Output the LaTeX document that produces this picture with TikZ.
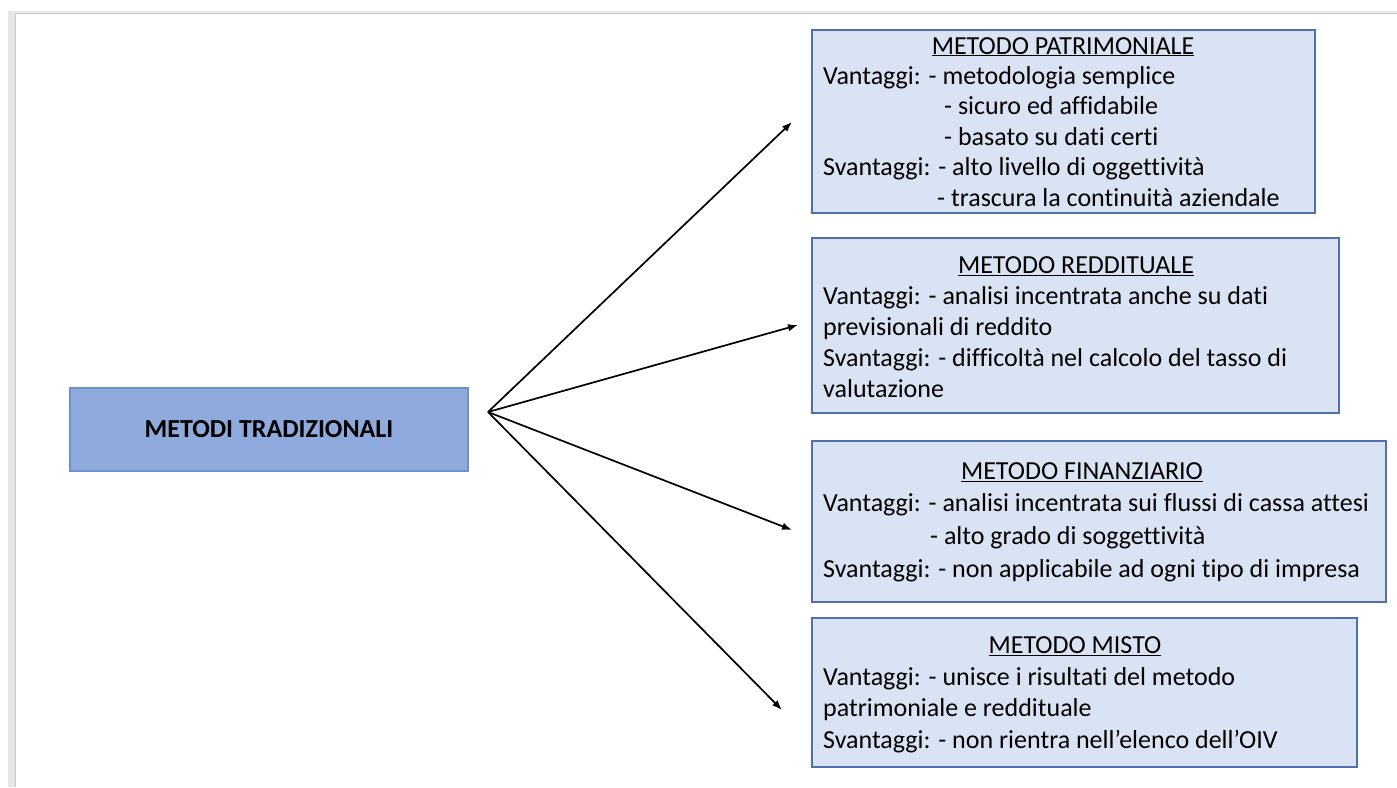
\documentclass[tikz,border=0pt]{standalone}
\usepackage{fontspec}
\setmainfont[Ligatures={NoCommon}]{Carlito}
\usetikzlibrary{arrows.meta}
\definecolor{pageedge}{HTML}{E6E6E6}
\definecolor{pageline}{HTML}{C8C8C8}
\definecolor{mainfill}{HTML}{8FAADC}
\definecolor{mainline}{HTML}{6F8FC9}
\definecolor{boxfill}{HTML}{DAE3F3}
\definecolor{boxline}{HTML}{4F6FAD}
\begin{document}
\begin{tikzpicture}[x=1pt,y=-1pt,
  mainbox/.style={draw=mainline, fill=mainfill, line width=1.2pt, minimum width=398pt, minimum height=83pt, inner sep=0pt},
  infobox/.style={draw=boxline, fill=boxfill, line width=1.2pt, inner sep=0pt},
  txt/.style={anchor=base west, inner sep=0pt, font=\fontsize{26}{30}\selectfont},
  ttl/.style={anchor=base, inner sep=0pt, font=\fontsize{26}{30}\selectfont},
  link/.style={line width=1.7pt, -{Latex[length=10pt,width=7.5pt]}}]
\useasboundingbox (0,0) rectangle (1397,787);
% page background with its grey edge
\fill[pageedge] (8,11) rectangle (1397,787);
\fill[white] (16,14) rectangle (1397,787);
\draw[pageline, line width=1.2pt] (15.5,787) -- (15.5,13.5) -- (1397,13.5);

% root box
\node[mainbox] (root) at (269,429.5) {\fontsize{26}{30}\selectfont\bfseries METODI TRADIZIONALI};

% method boxes
\node[infobox, minimum width=503pt, minimum height=183pt] (patr) at (1063.5,121.5) {};
\node[infobox, minimum width=527pt, minimum height=175pt] (redd) at (1075.5,325.5) {};
\node[infobox, minimum width=574pt, minimum height=161pt] (fin)  at (1099,521.5) {};
\node[infobox, minimum width=545pt, minimum height=149pt] (misto) at (1084.5,692.5) {};

% METODO PATRIMONIALE (baselines)
\node[ttl] (patrT) at (1063,54) {\underline{METODO PATRIMONIALE}};
\node[txt] (patr1) at (823,84) {Vantaggi: - metodologia semplice};
\node[txt] (patr2) at (944,114.5) {- sicuro ed affidabile};
\node[txt] (patr3) at (944,145) {- basato su dati certi};
\node[txt] (patr4) at (823,175.5) {Svantaggi: - alto livello di oggettività};
\node[txt] (patr5) at (937,206) {- trascura la continuità aziendale};

% METODO REDDITUALE
\node[ttl] (reddT) at (1076,273.5) {\underline{METODO REDDITUALE}};
\node[txt] (redd1) at (823,304) {Vantaggi: - analisi incentrata anche su dati};
\node[txt] (redd2) at (823,335) {previsionali di reddito};
\node[txt] (redd3) at (823,366) {Svantaggi: - difficoltà nel calcolo del tasso di};
\node[txt] (redd4) at (823,397) {valutazione};

% METODO FINANZIARIO
\node[ttl] (finT) at (1082,479.5) {\underline{METODO FINANZIARIO}};
\node[txt] (fin1) at (823,511) {Vantaggi: - analisi incentrata sui flussi di cassa attesi};
\node[txt] (fin2) at (930,544) {- alto grado di soggettività};
\node[txt] (fin3) at (823,577) {Svantaggi: - non applicabile ad ogni tipo di impresa};

% METODO MISTO
\node[ttl] (mistoT) at (1075,653.5) {\underline{METODO MISTO}};
\node[txt] (misto1) at (823,685) {Vantaggi: - unisce i risultati del metodo};
\node[txt] (misto2) at (823,716) {patrimoniale e reddituale};
\node[txt] (misto3) at (823,748) {Svantaggi: - non rientra nell’elenco dell’OIV};

% fan of arrows
\coordinate (hub) at (488,412);
\coordinate (tipP) at (792,122);
\coordinate (tipR) at (798,325);
\coordinate (tipF) at (792,530);
\coordinate (tipM) at (782,710);
\draw[link] (hub) -- (tipP);
\draw[link] (hub) -- (tipR);
\draw[link] (hub) -- (tipF);
\draw[link] (hub) -- (tipM);
\end{tikzpicture}
\end{document}
